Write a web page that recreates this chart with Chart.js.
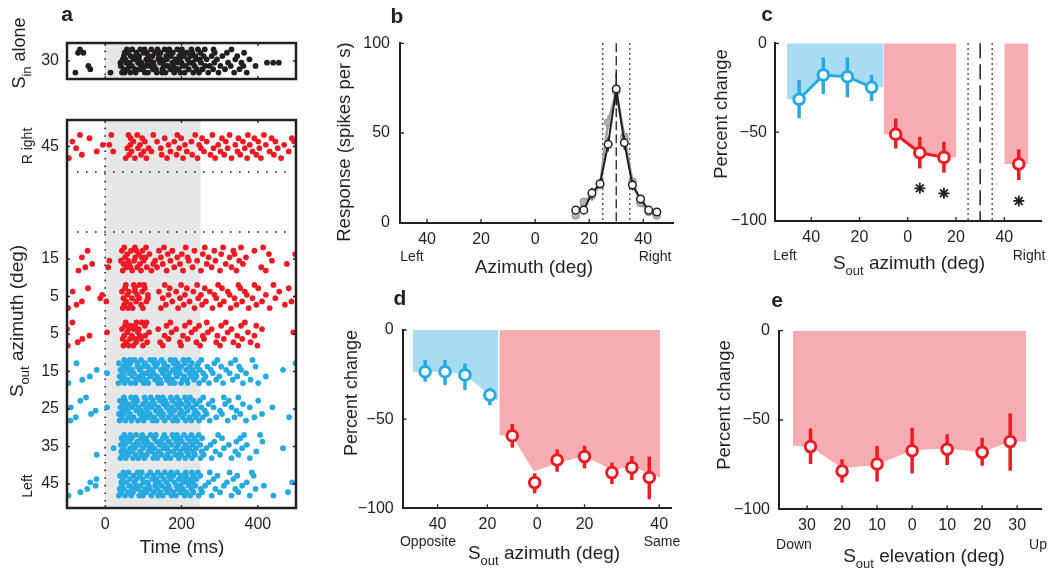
<!DOCTYPE html>
<html>
<head>
<meta charset="utf-8">
<script src="https://cdn.jsdelivr.net/npm/chart.js@4.4.0/dist/chart.umd.min.js"></script>
<style>
  body { margin: 0; background: #fff; width: 1050px; height: 577px; overflow: hidden; position: relative; }
  canvas { position: absolute; }
</style>
</head>
<body>
<script>
// ---- data ----
const rasterTicks = [0, 200, 400];
const rasterTickLabels = ['0', '200', '400'];
const stimWindow = [0, 250];
const rowTicks = [0, 1, 2, 3, 4, 5, 6, 9];
const rowLabels = ['45', '35', '25', '15', '5', '5', '15', '45'];
const gapLines = [6.72, 8.32];

// spike times (ms), one list per trial
const sinAlone = [
  [-78, 14, 44, 51, 66, 80, 104, 112, 135, 149, 158, 181, 197, 208, 231, 246, 270, 297, 338, 371],
  [-39, 48, 59, 78, 91, 99, 125, 133, 150, 171, 186, 192, 219, 240, 255, 283, 314, 352],
  [-44, 41, 62, 70, 93, 106, 117, 128, 154, 163, 178, 203, 211, 234, 262, 274, 302, 329, 362, 394],
  [40, 55, 64, 86, 95, 111, 126, 144, 152, 176, 189, 200, 221, 229, 251, 286, 322, 357, 424, 440, 455],
  [46, 53, 75, 88, 108, 118, 139, 147, 162, 184, 196, 216, 238, 248, 266, 293, 341, 378],
  [49, 67, 80, 89, 113, 124, 141, 160, 172, 194, 206, 224, 236, 258, 279, 307, 346],
  [-71, -57, 51, 60, 82, 101, 109, 131, 145, 166, 177, 199, 213, 228, 249, 287, 319, 364],
  [-66, 57, 71, 92, 103, 121, 137, 156, 168, 189, 201, 226, 243, 261, 284, 331]
];
const right45 = [
  [-95, 54, 78, 108, 162, 204, 242, 288, 331, 372, 408, 461],
  [-61, 63, 94, 148, 187, 228, 276, 312, 354, 396, 442],
  [-22, 21, 69, 101, 121, 171, 214, 259, 302, 347, 386, 431, 481],
  [-76, 58, 86, 114, 146, 194, 251, 284, 321, 366, 404, 452],
  [-6, 11, 66, 91, 166, 209, 246, 296, 341, 379, 421, 469],
  [-86, 74, 104, 136, 181, 226, 266, 316, 361, 401, 446, 495],
  [-41, 67, 97, 156, 199, 254, 306, 349, 391, 436, 489],
  [-66, 16, 61, 84, 126, 189, 236, 281, 326, 374, 416]
];
const right15 = [
  [-70, 46, 71, 94, 121, 161, 204, 251, 301, 344, 421],
  [-52, 8, 55, 66, 84, 109, 136, 181, 229, 279, 331, 409],
  [-34, 48, 63, 91, 126, 151, 196, 266, 316, 361, 476],
  [11, 41, 60, 76, 101, 131, 171, 219, 241, 289, 351, 437],
  [-61, 52, 79, 96, 106, 146, 189, 216, 271, 326, 369],
  [58, 88, 116, 164, 201, 256, 304, 339, 429, 498],
  [-46, 44, 68, 82, 98, 141, 176, 234, 286, 336, 391],
  [50, 78, 107, 154, 211, 261, 309, 356, 414]
];
const right5a = [
  [-97, 46, 60, 72, 99, 146, 191, 234, 281, 329, 376, 431],
  [-75, 50, 66, 94, 159, 206, 254, 301, 344, 396, 471],
  [-61, 3, 55, 81, 108, 176, 221, 264, 311, 359, 411, 488],
  [-13, 48, 70, 89, 112, 151, 196, 244, 291, 339, 386, 446],
  [-8, 58, 84, 112, 166, 209, 251, 286, 326, 371, 421],
  [-85, 44, 62, 78, 97, 141, 186, 231, 274, 321, 366, 456],
  [-45, 52, 78, 104, 169, 214, 261, 306, 354, 401, 481],
  [54, 75, 90, 102, 156, 199, 241, 296, 349, 391, 441]
];
const right5b = [
  [-98, 48, 62, 74, 99, 151, 199, 249, 301, 349, 399],
  [-72, 55, 81, 110, 144, 196, 239, 291, 336, 381],
  [-60, 46, 65, 80, 94, 166, 216, 259, 311, 359],
  [-41, 50, 70, 91, 105, 156, 204, 256, 294, 346, 391],
  [5, 58, 86, 115, 174, 226, 269, 321, 374, 493],
  [-100, 44, 61, 75, 88, 139, 186, 236, 279, 331, 411],
  [52, 66, 78, 104, 161, 209, 246, 304, 356, 396],
  [-86, 54, 82, 96, 108, 171, 221, 266, 316, 366]
];
const left15 = [
  [-96, 35, 51, 67, 79, 101, 113, 139, 147, 170, 182, 199, 216, 246, 272, 309, 361, 401],
  [-60, 44, 58, 81, 93, 108, 131, 143, 162, 176, 203, 214, 233, 258, 291, 334, 381],
  [-40, 38, 49, 72, 88, 97, 119, 136, 158, 166, 188, 207, 225, 239, 263, 299, 346, 421],
  [5, 46, 63, 75, 98, 109, 126, 151, 168, 185, 196, 221, 236, 257, 282, 326, 369],
  [-22, 40, 55, 70, 91, 116, 124, 146, 159, 178, 193, 212, 229, 248, 277, 317, 356, 466],
  [48, 61, 84, 99, 112, 133, 155, 164, 187, 199, 222, 241, 268, 304, 351, 394],
  [-75, 36, 53, 66, 85, 104, 128, 137, 154, 179, 190, 209, 227, 244, 286, 329, 499],
  [50, 65, 77, 94, 118, 129, 148, 171, 183, 205, 219, 252, 294, 341, 386]
];
const left25 = [
  [-91, 38, 53, 69, 86, 101, 124, 135, 156, 178, 189, 211, 226, 246, 274, 321, 369],
  [-77, 43, 61, 74, 97, 112, 128, 149, 166, 184, 203, 221, 238, 256, 291, 339, 391, 482],
  [-37, 36, 48, 65, 91, 104, 117, 141, 152, 173, 196, 207, 233, 243, 266, 306, 354, 411],
  [-25, 45, 58, 82, 94, 110, 133, 146, 168, 181, 199, 216, 236, 261, 301, 344],
  [-90, 5, 40, 56, 71, 88, 107, 121, 139, 161, 174, 192, 213, 229, 252, 284, 331, 379, 438],
  [47, 62, 78, 99, 115, 129, 153, 162, 186, 201, 218, 239, 271, 314, 361],
  [-65, 39, 52, 75, 84, 106, 125, 144, 157, 176, 194, 214, 231, 248, 281, 324, 401],
  [-50, 49, 68, 80, 103, 119, 138, 151, 172, 188, 209, 222, 257, 311, 349]
];
const left35 = [
  [40, 54, 73, 87, 103, 126, 137, 159, 171, 193, 210, 227, 250, 279, 331, 379],
  [-22, 45, 60, 79, 96, 109, 131, 148, 163, 184, 199, 218, 235, 258, 301, 349],
  [42, 57, 70, 92, 114, 122, 141, 166, 178, 197, 214, 231, 253, 289, 341, 396],
  [22, 47, 66, 78, 99, 117, 129, 153, 162, 186, 205, 220, 238, 265, 311, 359, 466],
  [41, 52, 75, 89, 106, 121, 143, 156, 174, 191, 211, 229, 249, 276, 324, 371],
  [48, 63, 84, 101, 110, 135, 146, 167, 187, 201, 223, 240, 286, 344, 412],
  [43, 58, 69, 94, 107, 128, 151, 160, 181, 196, 216, 234, 254, 306, 354],
  [50, 66, 81, 97, 119, 133, 155, 176, 188, 207, 226, 245, 296, 364, 406]
];
const left45 = [
  [-96, 36, 52, 68, 89, 99, 121, 139, 151, 174, 186, 208, 223, 245, 279, 331, 379, 441],
  [-65, 41, 60, 73, 95, 108, 127, 144, 163, 179, 198, 213, 231, 254, 301, 349, 479],
  [-47, 38, 49, 71, 86, 104, 117, 136, 158, 169, 191, 204, 227, 251, 289, 341, 394],
  [-25, 44, 63, 79, 92, 114, 131, 148, 166, 187, 197, 219, 236, 262, 311, 359, 416],
  [-39, 42, 56, 77, 101, 111, 133, 141, 161, 182, 203, 216, 229, 271, 319, 371, 490],
  [-23, 46, 65, 82, 98, 123, 134, 154, 171, 193, 209, 224, 239, 284, 336],
  [39, 53, 74, 91, 110, 127, 146, 167, 178, 199, 212, 231, 249, 294, 346, 389],
  [48, 61, 85, 96, 118, 138, 156, 173, 189, 211, 227, 243, 274, 326, 384]
];

// panel b: tuning curve
const bAz = [15, 18, 21, 24, 27, 30, 33, 36, 39, 42, 45];
const bBlack = [7, 7, 16.5, 21.7, 43.7, 74.5, 44.6, 21, 13.2, 7, 6];
const bBlackErr = [2, 2, 3, 2, 4, 9, 4, 3, 2, 1.5, 1.5];
const bGray = [4, 11.7, 15, 21, 56, 73, 48, 23, 11, 6, 4];
const bGrayErr = [1.5, 2, 3, 2, 4, 6, 3, 2, 2, 1, 1];
const bRf = [25, 35];
const bBest = [30];
const azTicks = [-40, -20, 0, 20, 40];
const azLabels = ['40', '20', '0', '20', '40'];

// panel c
const cBlueAz = [-45, -35, -25, -15];
const cBlue = [-31.5, -17.8, -18.8, -24.8];
const cBlueLo = [-42.2, -28.5, -30.4, -32.5];
const cBlueHi = [-20.6, -7.9, -7.9, -17.8];
const cRedAz = [-5, 5, 15];
const cRed = [-51.2, -61.6, -64.2];
const cRedLo = [-59.2, -70.4, -72.8];
const cRedHi = [-42.3, -52.6, -55.4];
const cFarAz = [46];
const cFar = [-67.9];
const cFarLo = [-76.9];
const cFarHi = [-59.7];
const cStarAz = [5, 15, 46];
const cStar = [-81.6, -84.4, -88.7];
const cShadeBlue = [-50, -10];
const cShadeRed = [-10, 20];
const cShadeFar = [40, 50];

// panel d
const dBlueAz = [-45, -37, -29, -19];
const dBlue = [-23.4, -23.4, -25.2, -36.5];
const dBlueLo = [-29, -30.8, -33.6, -42.2];
const dBlueHi = [-16.8, -16.8, -18.7, -32.5];
const dRedAz = [-10, -1, 8, 19, 30, 38, 45];
const dRed = [-59.3, -85.6, -72.9, -71, -80, -77.2, -82.7];
const dRedLo = [-66, -91.6, -79.5, -77.6, -86.4, -84.1, -94.9];
const dRedHi = [-52.7, -80.4, -67, -64.9, -74.4, -70.7, -71];
const dShadeBlueX = [-50, -45, -37, -29, -19, -15.6];
const dShadeBlueY = [-23.4, -23.4, -23.4, -25.2, -36.5, -40];
const dShadeRedX = [-15.2, -10, -1.3, 8, 19, 30, 38, 49.4];
const dShadeRedY = [-58.9, -59.8, -79.4, -74.8, -70.7, -78.5, -76.6, -82.8];
const dTicks = [-40, -20, 0, 19, 49];

// panel e
const eEl = [-29, -20, -10, 0, 10, 20, 28];
const eRed = [-64.9, -78.6, -74.6, -67.2, -66.4, -68.1, -62.1];
const eRedLo = [-74.6, -85.1, -84.5, -79.9, -75.2, -75.6, -78.4];
const eRedHi = [-54.7, -72, -64.6, -54.3, -58, -59.9, -46.3];
const eShadeX = [-34, -29, -20, -10, 0, 10, 20, 28, 32.6];
const eShadeY = [-64.4, -65, -77, -75, -67, -66, -68, -62, -62];
const elTicks = [-30, -20, -10, 0, 10, 20, 30];
const elLabels = ['30', '20', '10', '0', '10', '20', '30'];

const pctTicks = [-100, -50, 0];
const pctLabels = ['\u2212100', '\u221250', '0'];

// ---- styling ----
const FONT = '"Liberation Sans", Arial, Helvetica, sans-serif';
const INK = '#231f20';
const RED = '#ed1c24';
const BLUE = '#27aae1';
const PINK = '#f6adb2';
const SKY = '#a8dcf3';
const WINDOW_GRAY = '#e6e7e8';
const TRIAL_STEP = 0.088;
const Y_W = 60;
const X_H = 30;

Chart.defaults.font.family = FONT;
Chart.defaults.color = INK;

const CV = {
  aTop: { left: 0, top: 0, w: 300, h: 100 },
  aBot: { left: 0, top: 100, w: 300, h: 477 },
  b: { left: 300, top: 0, w: 380, h: 290 },
  c: { left: 680, top: 0, w: 370, h: 290 },
  d: { left: 330, top: 290, w: 350, h: 287 },
  e: { left: 700, top: 290, w: 350, h: 287 }
};

function makeCanvas(cv) {
  const el = document.createElement('canvas');
  el.width = cv.w;
  el.height = cv.h;
  el.style.left = cv.left + 'px';
  el.style.top = cv.top + 'px';
  document.body.appendChild(el);
  return el;
}

// padding so that the plot area lands on the given page box
function padFor(cv, x0, y0, x1, y1, yW, xH) {
  return { left: x0 - cv.left - yW, top: y0 - cv.top, right: cv.left + cv.w - x1, bottom: cv.top + cv.h - y1 - xH };
}

function axisX(min, max, vals, labels, opt) {
  opt = opt || {};
  return {
    type: 'linear', min: min, max: max,
    afterFit: s => { s.height = opt.h === undefined ? X_H : opt.h; },
    afterBuildTicks: s => { s.ticks = vals.map(v => ({ value: v })); },
    grid: { display: false, drawTicks: false },
    border: { display: opt.border !== false, color: INK, width: 2 },
    ticks: { display: opt.labels !== false, autoSkip: false, maxRotation: 0, padding: 7, color: INK, font: { size: 16 }, callback: (v, i) => labels[i] }
  };
}

function axisY(min, max, vals, labels, opt) {
  opt = opt || {};
  return {
    type: 'linear', min: min, max: max,
    afterFit: s => { s.width = Y_W; },
    afterBuildTicks: s => { s.ticks = vals.map(v => ({ value: v })); },
    grid: { display: false, drawTicks: false },
    border: { display: opt.border !== false, color: INK, width: 2 },
    ticks: { autoSkip: false, padding: opt.pad || 9, color: INK, font: { size: 16 }, callback: (v, i) => labels[i] }
  };
}

function pts(xs, ys) { return xs.map((x, i) => ({ x: x, y: ys[i] })); }

function rasterPoints(trials, row) {
  const out = [];
  trials.forEach((spikes, t) => spikes.forEach(s => out.push({ x: s, y: row + (t - 3.5) * TRIAL_STEP })));
  return out;
}

// shading under a curve, extended flat to the given edges
function shadeFrom(edges, xs, ys) {
  return [{ x: edges[0], y: ys[0] }].concat(pts(xs, ys), [{ x: edges[1], y: ys[ys.length - 1] }]);
}

function sub(main, low, rest, size) {
  return [[main, size, 0], [low, Math.round(size * 0.7), Math.round(size * 0.38)], [rest, size, 0]];
}

function drawText(ctx, cv, item) {
  const parts = item.parts || [[item.text, item.size || 18, 0]];
  const weight = item.bold ? 'bold ' : '';
  ctx.save();
  ctx.translate(item.x - cv.left, item.y - cv.top);
  if (item.rot) ctx.rotate(-Math.PI / 2);
  ctx.fillStyle = INK;
  ctx.textAlign = 'left';
  ctx.textBaseline = item.base || 'middle';
  let total = 0;
  parts.forEach(p => { ctx.font = weight + p[1] + 'px ' + FONT; total += ctx.measureText(p[0]).width; });
  let cx = -total / 2;
  parts.forEach(p => {
    ctx.font = weight + p[1] + 'px ' + FONT;
    ctx.fillText(p[0], cx, p[2]);
    cx += ctx.measureText(p[0]).width;
  });
  ctx.restore();
}

function textPlugin(cv, list) {
  return { id: 'texts', afterDraw(chart) { list.forEach(it => drawText(chart.ctx, cv, it)); } };
}

function innerTicks(chart, len, boxed) {
  const { ctx, chartArea: a, scales } = chart;
  ctx.save();
  ctx.strokeStyle = INK;
  ctx.lineWidth = 1.3;
  ctx.beginPath();
  scales.x.ticks.forEach(t => {
    const px = scales.x.getPixelForValue(t.value);
    ctx.moveTo(px, a.bottom); ctx.lineTo(px, a.bottom - len);
    if (boxed) { ctx.moveTo(px, a.top); ctx.lineTo(px, a.top + len); }
  });
  scales.y.ticks.forEach(t => {
    const py = scales.y.getPixelForValue(t.value);
    ctx.moveTo(a.left, py); ctx.lineTo(a.left + len, py);
    if (boxed) { ctx.moveTo(a.right, py); ctx.lineTo(a.right - len, py); }
  });
  ctx.stroke();
  ctx.restore();
}

function vLine(chart, xv, dash, width) {
  const { ctx, chartArea: a, scales: { x } } = chart;
  const px = x.getPixelForValue(xv);
  ctx.save();
  ctx.strokeStyle = INK;
  ctx.lineWidth = width;
  ctx.setLineDash(dash);
  ctx.beginPath(); ctx.moveTo(px, a.top); ctx.lineTo(px, a.bottom); ctx.stroke();
  ctx.restore();
}

function errorBars(chart, ds) {
  const { ctx, scales: { x, y } } = chart;
  ctx.save();
  ctx.strokeStyle = ds.errColor;
  ctx.lineWidth = ds.errWidth;
  ds.data.forEach((p, i) => {
    const px = x.getPixelForValue(p.x);
    ctx.beginPath();
    ctx.moveTo(px, y.getPixelForValue(ds.errLo[i]));
    ctx.lineTo(px, y.getPixelForValue(ds.errHi[i]));
    ctx.stroke();
  });
  ctx.restore();
}

const errPlugin = {
  id: 'errs',
  beforeDatasetDraw(chart, args) {
    const ds = chart.data.datasets[args.index];
    if (ds.errLo) errorBars(chart, ds);
  }
};

function rasterDecor(withGaps) {
  return {
    id: 'rasterDecor',
    beforeDatasetsDraw(chart) {
      const { ctx, chartArea: a, scales: { x, y } } = chart;
      ctx.save();
      ctx.fillStyle = WINDOW_GRAY;
      const x0 = x.getPixelForValue(stimWindow[0]), x1 = x.getPixelForValue(stimWindow[1]);
      ctx.fillRect(x0, a.top, x1 - x0, a.bottom - a.top);
      ctx.restore();
      vLine(chart, 0, [1.6, 6], 1.6);
      if (withGaps) {
        ctx.save();
        ctx.strokeStyle = INK;
        ctx.lineWidth = 1.6;
        ctx.setLineDash([1.6, 7.4]);
        gapLines.forEach(g => {
          const py = y.getPixelForValue(g);
          ctx.beginPath(); ctx.moveTo(a.left + 10, py); ctx.lineTo(a.right - 4, py); ctx.stroke();
        });
        ctx.restore();
      }
    },
    afterDraw(chart) {
      const { ctx, chartArea: a } = chart;
      ctx.save();
      ctx.strokeStyle = INK;
      ctx.lineWidth = 2.5;
      ctx.strokeRect(a.left, a.top, a.right - a.left, a.bottom - a.top);
      ctx.restore();
      innerTicks(chart, 3, true);
    }
  };
}

const baseOptions = (padding, scales) => ({
  responsive: false,
  animation: false,
  devicePixelRatio: 1,
  layout: { padding: padding },
  scales: scales,
  plugins: { legend: { display: false }, tooltip: { enabled: false } }
});

function spikeSet(trials, row, color) {
  return { data: rasterPoints(trials, row), backgroundColor: color, borderWidth: 0, pointRadius: 2.9 };
}

function markerSet(xs, ys, color, lo, hi, line) {
  return {
    data: pts(xs, ys), showLine: !!line, borderColor: color, borderWidth: 3,
    pointRadius: 5.3, pointBorderWidth: 3, pointBackgroundColor: '#fff', pointBorderColor: color,
    errLo: lo, errHi: hi, errColor: color, errWidth: 3.5, fill: false
  };
}

function shadeSet(data, color) {
  return { data: data, showLine: true, fill: { value: 0 }, backgroundColor: color, borderWidth: 0, pointRadius: 0 };
}

// ---- panel a, top ----
new Chart(makeCanvas(CV.aTop), {
  type: 'scatter',
  data: { datasets: [spikeSet(sinAlone, 0, INK)] },
  options: baseOptions(padFor(CV.aTop, 67, 43, 298, 79, Y_W, 0), {
    x: axisX(-100, 500, rasterTicks, rasterTickLabels, { h: 0, labels: false, border: false }),
    y: axisY(-0.48, 0.48, [0], ['30'], { pad: 8, border: false })
  }),
  plugins: [rasterDecor(false), textPlugin(CV.aTop, [
    { text: 'a', size: 21, bold: true, x: 67, y: 21, base: 'alphabetic' },
    { parts: sub('S', 'in', ' alone', 18), x: 20, y: 53, rot: true }
  ])]
});

// ---- panel a, bottom ----
new Chart(makeCanvas(CV.aBot), {
  type: 'scatter',
  data: {
    datasets: [
      spikeSet(right45, 9, RED), spikeSet(right15, 6, RED), spikeSet(right5a, 5, RED), spikeSet(right5b, 4, RED),
      spikeSet(left15, 3, BLUE), spikeSet(left25, 2, BLUE), spikeSet(left35, 1, BLUE), spikeSet(left45, 0, BLUE)
    ]
  },
  options: baseOptions(padFor(CV.aBot, 67, 120, 298, 508, Y_W, X_H), {
    x: axisX(-100, 500, rasterTicks, rasterTickLabels, { border: false }),
    y: axisY(-0.64, 9.707, rowTicks, rowLabels, { pad: 8, border: false })
  }),
  plugins: [rasterDecor(true), textPlugin(CV.aBot, [
    { text: 'R ight', size: 14, x: 28, y: 146, rot: true },
    { text: 'Left', size: 14, x: 28, y: 486, rot: true },
    { parts: sub('S', 'out', ' azimuth (deg)', 19), x: 18, y: 321, rot: true },
    { text: 'Time (ms)', size: 19, x: 182, y: 548 }
  ])]
});

// ---- panel b ----
const bBlackSet = {
  data: pts(bAz, bBlack), showLine: true, borderColor: INK, borderWidth: 2,
  pointRadius: 3.8, pointBorderWidth: 1.5, pointBackgroundColor: '#fff', pointBorderColor: INK,
  errLo: bBlack.map((v, i) => v - bBlackErr[i]), errHi: bBlack.map((v, i) => v + bBlackErr[i]), errColor: INK, errWidth: 1.5
};
const bGraySet = {
  data: pts(bAz, bGray), showLine: true, borderColor: '#9d9fa2', borderWidth: 2.5,
  pointRadius: 3.8, pointBorderWidth: 1, pointBackgroundColor: '#b1b3b6', pointBorderColor: '#8c8e91',
  errLo: bGray.map((v, i) => v - bGrayErr[i]), errHi: bGray.map((v, i) => v + bGrayErr[i]), errColor: '#9d9fa2', errWidth: 1.5
};
new Chart(makeCanvas(CV.b), {
  type: 'scatter',
  data: { datasets: [bBlackSet, bGraySet] },
  options: baseOptions(padFor(CV.b, 400, 43.3, 673, 222.7, Y_W, X_H), {
    x: axisX(-50, 51, azTicks, azLabels),
    y: axisY(0, 100, [0, 50, 100], ['0', '50', '100'], { pad: 10 })
  }),
  plugins: [errPlugin, {
    id: 'bLines',
    beforeDatasetsDraw(chart) {
      bRf.forEach(v => vLine(chart, v, [1.5, 3.5], 1.5));
      bBest.forEach(v => vLine(chart, v, [9, 4], 1.3));
    },
    afterDraw(chart) { innerTicks(chart, 4, false); }
  }, textPlugin(CV.b, [
    { text: 'b', size: 21, bold: true, x: 397, y: 23, base: 'alphabetic' },
    { text: 'Response (spikes per s)', size: 18.5, x: 345, y: 142, rot: true },
    { text: 'Azimuth (deg)', size: 19, x: 534, y: 268 },
    { text: 'Left', size: 14, x: 412, y: 257 },
    { text: 'Right', size: 14, x: 655, y: 257 }
  ])]
});

// ---- panel c ----
new Chart(makeCanvas(CV.c), {
  type: 'scatter',
  data: {
    datasets: [
      { data: pts(cStarAz, cStar), pointStyle: 'star', pointRadius: 5.5, pointBorderWidth: 1.8, pointBorderColor: INK, showLine: false },
      markerSet(cBlueAz, cBlue, BLUE, cBlueLo, cBlueHi, true),
      markerSet(cRedAz, cRed, RED, cRedLo, cRedHi, true),
      markerSet(cFarAz, cFar, RED, cFarLo, cFarHi, false),
      shadeSet(shadeFrom(cShadeBlue, cBlueAz, cBlue), SKY),
      shadeSet(shadeFrom(cShadeRed, cRedAz, cRed), PINK),
      shadeSet(shadeFrom(cShadeFar, cFarAz, cFar), PINK)
    ]
  },
  options: baseOptions(padFor(CV.c, 775, 43.3, 1046.8, 221, Y_W, X_H), {
    x: axisX(-55, 55.5, azTicks, azLabels),
    y: axisY(-100, 0, pctTicks, pctLabels, { pad: 8 })
  }),
  plugins: [errPlugin, {
    id: 'cLines',
    beforeDatasetsDraw(chart) {
      bRf.forEach(v => vLine(chart, v, [1.5, 3.5], 1.5));
      bBest.forEach(v => vLine(chart, v, [15, 6], 1.5));
    },
    afterDraw(chart) { innerTicks(chart, 4, false); }
  }, textPlugin(CV.c, [
    { text: 'c', size: 21, bold: true, x: 767, y: 21, base: 'alphabetic' },
    { text: 'Percent change', size: 18.5, x: 722, y: 114, rot: true },
    { text: 'Left', size: 14, x: 785, y: 256 },
    { text: 'Right', size: 14, x: 1029, y: 256 },
    { parts: sub('S', 'out', ' azimuth (deg)', 19), x: 909, y: 264 }
  ])]
});

// ---- panel d ----
new Chart(makeCanvas(CV.d), {
  type: 'scatter',
  data: {
    datasets: [
      markerSet(dBlueAz, dBlue, BLUE, dBlueLo, dBlueHi, false),
      markerSet(dRedAz, dRed, RED, dRedLo, dRedHi, false),
      shadeSet(pts(dShadeBlueX, dShadeBlueY), SKY),
      shadeSet(pts(dShadeRedX, dShadeRedY), PINK)
    ]
  },
  options: baseOptions(padFor(CV.d, 402.7, 330, 673.3, 508.3, Y_W, X_H), {
    x: axisX(-54, 54, dTicks, azLabels),
    y: axisY(-100, 0, pctTicks, pctLabels, { pad: 9 })
  }),
  plugins: [errPlugin, { id: 'dTicks', afterDraw(chart) { innerTicks(chart, 4, false); } }, textPlugin(CV.d, [
    { text: 'd', size: 21, bold: true, x: 400, y: 305, base: 'alphabetic' },
    { text: 'Percent change', size: 18, x: 352, y: 393, rot: true },
    { text: 'Opposite', size: 14, x: 428, y: 542 },
    { text: 'Same', size: 14, x: 662, y: 542 },
    { parts: sub('S', 'out', ' azimuth (deg)', 19), x: 544, y: 554 }
  ])]
});

// ---- panel e ----
new Chart(makeCanvas(CV.e), {
  type: 'scatter',
  data: {
    datasets: [
      markerSet(eEl, eRed, RED, eRedLo, eRedHi, false),
      shadeSet(pts(eShadeX, eShadeY), PINK)
    ]
  },
  options: baseOptions(padFor(CV.e, 779, 330.7, 1048, 509.3, Y_W, X_H), {
    x: axisX(-38, 37, elTicks, elLabels),
    y: axisY(-100, 0, pctTicks, pctLabels, { pad: 9 })
  }),
  plugins: [errPlugin, { id: 'eTicks', afterDraw(chart) { innerTicks(chart, 4, false); } }, textPlugin(CV.e, [
    { text: 'e', size: 21, bold: true, x: 777, y: 307, base: 'alphabetic' },
    { text: 'Percent change', size: 18.5, x: 725, y: 405, rot: true },
    { text: 'Down', size: 14, x: 794, y: 545 },
    { text: 'Up', size: 14, x: 1038, y: 545 },
    { parts: sub('S', 'out', ' elevation (deg)', 19), x: 924, y: 557 }
  ])]
});
</script>
</body>
</html>
